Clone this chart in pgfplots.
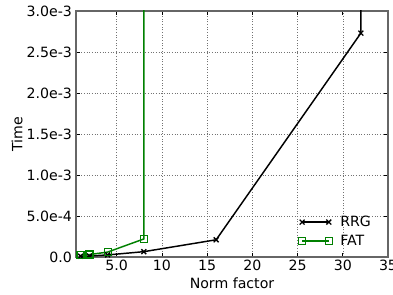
\documentclass[border=0pt]{standalone}
\usepackage{pgfplots}
\pgfplotsset{compat=1.18}
\usepackage{fontspec}
\setmainfont{DejaVu Sans}
\definecolor{mplgreen}{rgb}{0,0.5,0}
\begin{document}
\begin{tikzpicture}
\useasboundingbox (-57pt,-28.5pt) rectangle (237.75pt,192.75pt);
\begin{axis}[
  scale only axis,
  width=234pt, height=184.5pt,
  xmin=0.5, xmax=35, ymin=0, ymax=3e-3,
  xtick={5,10,15,20,25,30,35},
  xticklabels={5.0,10,15,20,25,30,35},
  ytick={0,5e-4,1e-3,1.5e-3,2e-3,2.5e-3,3e-3},
  yticklabels={0.0,5.0e-4,1.0e-3,1.5e-3,2.0e-3,2.5e-3,3.0e-3},
  scaled y ticks=false,
  /pgf/number format/assume math mode=true,
  tick label style={font=\fontsize{10.6}{12}\selectfont},
  label style={font=\fontsize{10.6}{12}\selectfont},
  xticklabel style={yshift=1pt},
  yticklabel style={xshift=0.5pt},
  tick align=inside,
  tick style={black, line width=0.5pt},
  major tick length=3pt,
  axis line style={black!60, line width=0.8pt},
  grid=major,
  major grid style={black!55, line width=0.4pt, dash pattern=on 0.8pt off 1.2pt},
  xlabel={Norm factor},
  ylabel={Time},
  xlabel style={at={(axis description cs:0.5,-0.106)}, anchor=center},
  ylabel style={at={(axis description cs:-0.189,0.5)}, anchor=center},
  legend style={draw=none, fill=none, at={(axis description cs:0.70,0.19)}, anchor=north west,
    font=\fontsize{10.6}{12}\selectfont, row sep=1pt,
    nodes={inner xsep=6pt}},
  legend cell align=left,
  legend image code/.code={\draw[mark repeat=1,#1] plot coordinates {(0pt,0pt) (20pt,0pt)};},
]
\addplot[black, line width=1.1pt, mark=x, mark size=2.6pt, mark options={line width=1pt}]
  coordinates {(1,1.0e-5) (2,1.2e-5) (4,2.5e-5) (8,6.5e-5) (16,2.1e-4) (32,2.73e-3) (32.01,0.01)};
\addlegendentry{RRG}
\addplot[mplgreen, line width=1.1pt, mark=square, mark size=2.6pt, mark options={line width=0.9pt, fill=none}]
  coordinates {(1,2.0e-5) (2,3.0e-5) (4,6.0e-5) (8,2.2e-4) (8.01,0.01)};
\addlegendentry{FAT}
\end{axis}
\end{tikzpicture}
\end{document}
